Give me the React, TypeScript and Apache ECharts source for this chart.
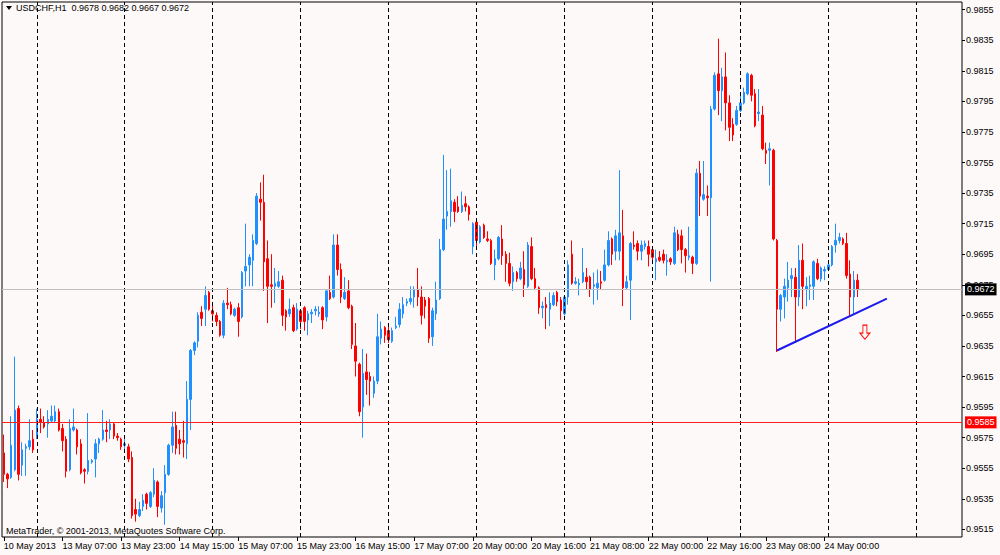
import React, { useEffect, useRef } from "react";
import * as echarts from "echarts";

const SLOTS = 262;
const LABEL_STEP = 16;
const tickLabels = [
  "10 May 2013", "13 May 07:00", "13 May 23:00", "14 May 15:00", "15 May 07:00",
  "15 May 23:00", "16 May 15:00", "17 May 07:00", "20 May 00:00", "20 May 16:00",
  "21 May 08:00", "22 May 00:00", "22 May 16:00", "23 May 08:00", "24 May 00:00",
];
const daySeparators = [9, 33, 57, 81, 105, 129, 153, 177, 201, 225, 249];
const priceTicks = [
  0.9515, 0.9535, 0.9555, 0.9575, 0.9595, 0.9615, 0.9635, 0.9655, 0.9675,
  0.9695, 0.9715, 0.9735, 0.9755, 0.9775, 0.9795, 0.9815, 0.9835, 0.9855,
];

const open = [
  0.9565, 0.9551, 0.9549, 0.9554, 0.9594, 0.9557, 0.9568, 0.9569, 0.9574, 0.9575,
  0.9587, 0.9585, 0.9584, 0.9586, 0.9586, 0.9592, 0.9581, 0.9574, 0.9554, 0.9580,
  0.9580, 0.9571, 0.9554, 0.9553, 0.9559, 0.9561, 0.9571, 0.9574, 0.9580, 0.9580,
  0.9584, 0.9576, 0.9574, 0.9570, 0.9569, 0.9562, 0.9528, 0.9524, 0.9530, 0.9538,
  0.9530, 0.9538, 0.9546, 0.9529, 0.9539, 0.9551, 0.9570, 0.9583, 0.9574, 0.9573,
  0.9571, 0.9600, 0.9632, 0.9638, 0.9657, 0.9659, 0.9670, 0.9658, 0.9655, 0.9651,
  0.9642, 0.9663, 0.9662, 0.9655, 0.9660, 0.9654, 0.9684, 0.9688, 0.9691, 0.9702,
  0.9731, 0.9729, 0.9692, 0.9675, 0.9674, 0.9674, 0.9678, 0.9658, 0.9656, 0.9660,
  0.9646, 0.9658, 0.9660, 0.9652, 0.9656, 0.9658, 0.9656, 0.9660, 0.9654, 0.9670,
  0.9667, 0.9701, 0.9685, 0.9666, 0.9671, 0.9661, 0.9635, 0.9623, 0.9595, 0.9618,
  0.9615, 0.9604, 0.9612, 0.9640, 0.9647, 0.9645, 0.9638, 0.9647, 0.9649, 0.9656,
  0.9663, 0.9664, 0.9667, 0.9672, 0.9667, 0.9665, 0.9666, 0.9641, 0.9656, 0.9666,
  0.9698, 0.9720, 0.9723, 0.9729, 0.9726, 0.9723, 0.9728, 0.9726, 0.9700, 0.9716,
  0.9703, 0.9714, 0.9705, 0.9704, 0.9688, 0.9692, 0.9705, 0.9695, 0.9689, 0.9677,
  0.9683, 0.9679, 0.9685, 0.9674, 0.9700, 0.9679, 0.9673, 0.9660, 0.9662, 0.9659,
  0.9662, 0.9670, 0.9665, 0.9656, 0.9667, 0.9695, 0.9676, 0.9675, 0.9677, 0.9680,
  0.9680, 0.9674, 0.9673, 0.9677, 0.9678, 0.9688, 0.9705, 0.9697, 0.9697, 0.9707,
  0.9673, 0.9678, 0.9701, 0.9702, 0.9697, 0.9700, 0.9700, 0.9698, 0.9690, 0.9693,
  0.9695, 0.9690, 0.9692, 0.9689, 0.9708, 0.9707, 0.9698, 0.9693, 0.9693, 0.9689,
  0.9748, 0.9731, 0.9733, 0.9732, 0.9790, 0.9813, 0.9802, 0.9811, 0.9794, 0.9780,
  0.9780, 0.9789, 0.9794, 0.9800, 0.9812, 0.9800, 0.9787, 0.9786, 0.9763, 0.9763,
  0.9763, 0.9704, 0.9659, 0.9667, 0.9673, 0.9679, 0.9680, 0.9667, 0.9691, 0.9672,
  0.9674, 0.9674, 0.9689, 0.9679, 0.9684, 0.9685, 0.9688, 0.9701, 0.9704, 0.9705,
  0.9702, 0.9682, 0.9667, 0.9678,
];
const high = [
  0.9577, 0.9552, 0.9589, 0.9628, 0.9596, 0.9572, 0.9571, 0.9587, 0.9580, 0.9594,
  0.9594, 0.9589, 0.9593, 0.9596, 0.9596, 0.9594, 0.9584, 0.9576, 0.9587, 0.9594,
  0.9581, 0.9574, 0.9555, 0.9591, 0.9561, 0.9574, 0.9575, 0.9593, 0.9586, 0.9587,
  0.9585, 0.9578, 0.9575, 0.9574, 0.9571, 0.9566, 0.9535, 0.9533, 0.9538, 0.9539,
  0.9540, 0.9555, 0.9547, 0.9540, 0.9557, 0.9571, 0.9592, 0.9592, 0.9580, 0.9586,
  0.9612, 0.9633, 0.9638, 0.9657, 0.9661, 0.9674, 0.9671, 0.9663, 0.9657, 0.9652,
  0.9665, 0.9673, 0.9664, 0.9660, 0.9663, 0.9684, 0.9715, 0.9695, 0.9708, 0.9735,
  0.9742, 0.9747, 0.9704, 0.9695, 0.9686, 0.9684, 0.9681, 0.9659, 0.9666, 0.9662,
  0.9663, 0.9659, 0.9661, 0.9658, 0.9659, 0.9661, 0.9661, 0.9661, 0.9672, 0.9681,
  0.9708, 0.9708, 0.9689, 0.9680, 0.9678, 0.9662, 0.9650, 0.9624, 0.9633, 0.9630,
  0.9618, 0.9615, 0.9656, 0.9651, 0.9648, 0.9648, 0.9647, 0.9654, 0.9663, 0.9667,
  0.9666, 0.9674, 0.9674, 0.9686, 0.9674, 0.9667, 0.9667, 0.9660, 0.9677, 0.9705,
  0.9760, 0.9750, 0.9751, 0.9731, 0.9733, 0.9736, 0.9733, 0.9727, 0.9716, 0.9717,
  0.9714, 0.9715, 0.9710, 0.9705, 0.9698, 0.9707, 0.9714, 0.9697, 0.9696, 0.9687,
  0.9684, 0.9690, 0.9697, 0.9703, 0.9706, 0.9686, 0.9674, 0.9664, 0.9667, 0.9670,
  0.9670, 0.9671, 0.9667, 0.9668, 0.9691, 0.9704, 0.9680, 0.9679, 0.9699, 0.9686,
  0.9681, 0.9683, 0.9685, 0.9684, 0.9698, 0.9710, 0.9706, 0.9711, 0.9750, 0.9724,
  0.9681, 0.9703, 0.9710, 0.9704, 0.9704, 0.9704, 0.9704, 0.9699, 0.9698, 0.9697,
  0.9698, 0.9695, 0.9693, 0.9713, 0.9711, 0.9711, 0.9699, 0.9713, 0.9694, 0.9751,
  0.9756, 0.9756, 0.9740, 0.9792, 0.9814, 0.9836, 0.9817, 0.9827, 0.9799, 0.9784,
  0.9792, 0.9801, 0.9804, 0.9814, 0.9813, 0.9803, 0.9803, 0.9792, 0.9768, 0.9768,
  0.9764, 0.9705, 0.9669, 0.9679, 0.9690, 0.9686, 0.9686, 0.9701, 0.9702, 0.9680,
  0.9681, 0.9691, 0.9692, 0.9687, 0.9687, 0.9691, 0.9701, 0.9715, 0.9709, 0.9706,
  0.9709, 0.9691, 0.9684, 0.9682,
];
const low = [
  0.9546, 0.9542, 0.9548, 0.9553, 0.9547, 0.9550, 0.9550, 0.9567, 0.9565, 0.9574,
  0.9578, 0.9581, 0.9575, 0.9585, 0.9585, 0.9579, 0.9566, 0.9549, 0.9553, 0.9579,
  0.9564, 0.9551, 0.9545, 0.9551, 0.9558, 0.9549, 0.9565, 0.9573, 0.9572, 0.9574,
  0.9574, 0.9573, 0.9567, 0.9567, 0.9559, 0.9522, 0.9520, 0.9523, 0.9527, 0.9528,
  0.9529, 0.9536, 0.9523, 0.9526, 0.9518, 0.9550, 0.9565, 0.9564, 0.9564, 0.9562,
  0.9561, 0.9580, 0.9629, 0.9634, 0.9648, 0.9648, 0.9658, 0.9651, 0.9648, 0.9641,
  0.9640, 0.9659, 0.9655, 0.9654, 0.9641, 0.9653, 0.9674, 0.9674, 0.9674, 0.9701,
  0.9717, 0.9671, 0.9650, 0.9660, 0.9663, 0.9673, 0.9648, 0.9645, 0.9654, 0.9644,
  0.9645, 0.9646, 0.9645, 0.9642, 0.9650, 0.9655, 0.9654, 0.9646, 0.9651, 0.9665,
  0.9666, 0.9681, 0.9663, 0.9665, 0.9659, 0.9633, 0.9615, 0.9589, 0.9575, 0.9603,
  0.9596, 0.9601, 0.9610, 0.9636, 0.9637, 0.9637, 0.9637, 0.9646, 0.9647, 0.9653,
  0.9661, 0.9662, 0.9660, 0.9661, 0.9649, 0.9653, 0.9637, 0.9635, 0.9652, 0.9665,
  0.9697, 0.9711, 0.9713, 0.9716, 0.9722, 0.9722, 0.9723, 0.9717, 0.9695, 0.9698,
  0.9702, 0.9705, 0.9703, 0.9688, 0.9678, 0.9691, 0.9688, 0.9677, 0.9674, 0.9671,
  0.9677, 0.9678, 0.9667, 0.9673, 0.9678, 0.9672, 0.9656, 0.9653, 0.9646, 0.9648,
  0.9661, 0.9661, 0.9652, 0.9655, 0.9662, 0.9675, 0.9675, 0.9668, 0.9676, 0.9672,
  0.9667, 0.9662, 0.9665, 0.9672, 0.9677, 0.9687, 0.9688, 0.9691, 0.9691, 0.9661,
  0.9672, 0.9652, 0.9698, 0.9691, 0.9691, 0.9698, 0.9687, 0.9690, 0.9678, 0.9690,
  0.9689, 0.9681, 0.9688, 0.9688, 0.9697, 0.9689, 0.9683, 0.9691, 0.9682, 0.9688,
  0.9720, 0.9730, 0.9720, 0.9677, 0.9789, 0.9786, 0.9782, 0.9776, 0.9769, 0.9769,
  0.9779, 0.9788, 0.9793, 0.9799, 0.9795, 0.9778, 0.9782, 0.9763, 0.9754, 0.9740,
  0.9704, 0.9631, 0.9651, 0.9653, 0.9664, 0.9667, 0.9637, 0.9661, 0.9659, 0.9661,
  0.9665, 0.9665, 0.9678, 0.9677, 0.9678, 0.9684, 0.9687, 0.9696, 0.9702, 0.9701,
  0.9679, 0.9654, 0.9656, 0.9667,
];
const close = [
  0.9551, 0.9548, 0.9570, 0.9593, 0.9551, 0.9567, 0.9569, 0.9573, 0.9567, 0.9587,
  0.9585, 0.9582, 0.9587, 0.9589, 0.9592, 0.9580, 0.9573, 0.9553, 0.9581, 0.9582,
  0.9569, 0.9552, 0.9553, 0.9560, 0.9560, 0.9571, 0.9574, 0.9580, 0.9579, 0.9584,
  0.9576, 0.9575, 0.9569, 0.9571, 0.9561, 0.9524, 0.9525, 0.9528, 0.9534, 0.9532,
  0.9539, 0.9547, 0.9530, 0.9537, 0.9551, 0.9570, 0.9582, 0.9568, 0.9571, 0.9572,
  0.9600, 0.9632, 0.9637, 0.9655, 0.9653, 0.9668, 0.9659, 0.9656, 0.9651, 0.9642,
  0.9663, 0.9662, 0.9656, 0.9659, 0.9651, 0.9683, 0.9687, 0.9693, 0.9704, 0.9733,
  0.9729, 0.9690, 0.9674, 0.9674, 0.9676, 0.9677, 0.9655, 0.9654, 0.9659, 0.9645,
  0.9659, 0.9651, 0.9651, 0.9656, 0.9657, 0.9659, 0.9657, 0.9652, 0.9671, 0.9666,
  0.9701, 0.9685, 0.9667, 0.9670, 0.9660, 0.9636, 0.9625, 0.9592, 0.9617, 0.9613,
  0.9612, 0.9612, 0.9641, 0.9646, 0.9642, 0.9639, 0.9645, 0.9648, 0.9659, 0.9662,
  0.9664, 0.9666, 0.9672, 0.9667, 0.9655, 0.9661, 0.9640, 0.9658, 0.9665, 0.9698,
  0.9718, 0.9723, 0.9730, 0.9723, 0.9723, 0.9727, 0.9726, 0.9721, 0.9715, 0.9704,
  0.9713, 0.9706, 0.9704, 0.9689, 0.9692, 0.9706, 0.9694, 0.9689, 0.9676, 0.9683,
  0.9679, 0.9686, 0.9675, 0.9701, 0.9679, 0.9673, 0.9660, 0.9661, 0.9660, 0.9663,
  0.9668, 0.9664, 0.9658, 0.9667, 0.9688, 0.9676, 0.9677, 0.9676, 0.9683, 0.9677,
  0.9672, 0.9675, 0.9676, 0.9676, 0.9688, 0.9704, 0.9695, 0.9707, 0.9709, 0.9673,
  0.9677, 0.9702, 0.9700, 0.9697, 0.9701, 0.9702, 0.9695, 0.9693, 0.9692, 0.9691,
  0.9691, 0.9691, 0.9690, 0.9709, 0.9698, 0.9698, 0.9694, 0.9694, 0.9689, 0.9748,
  0.9733, 0.9734, 0.9732, 0.9790, 0.9812, 0.9802, 0.9811, 0.9794, 0.9778, 0.9773,
  0.9789, 0.9794, 0.9801, 0.9813, 0.9799, 0.9779, 0.9788, 0.9764, 0.9761, 0.9764,
  0.9705, 0.9659, 0.9668, 0.9674, 0.9678, 0.9681, 0.9667, 0.9691, 0.9674, 0.9674,
  0.9675, 0.9690, 0.9679, 0.9686, 0.9685, 0.9688, 0.9700, 0.9704, 0.9706, 0.9702,
  0.9681, 0.9667, 0.9678, 0.9672,
];

const bidPrice = 0.9672;
const horizontalLevel = 0.9585;
const trendLine = [
  [211, 0.9632],
  [241, 0.9666],
];
const sellArrow = [[235, 0.9644]];

const titleText = "USDCHF,H1  0.9678 0.9682 0.9667 0.9672";
const copyrightText = "MetaTrader, \u00a9 2001-2013, MetaQuotes Software Corp.";

const FONT = "'Liberation Sans', Arial, sans-serif";
const BG = "#fdf9f8";

const categories = Array.from({ length: SLOTS }, (_, i) => String(i));
const isLabelIdx = (i: number) => i % LABEL_STEP === 0 && i / LABEL_STEP < tickLabels.length;

const priceBox = (bg: string, value: number) => ({
  show: true,
  position: "end",
  distance: 3,
  formatter: value.toFixed(4),
  backgroundColor: bg,
  color: "#fff",
  padding: [2, 2, 1, 2],
  fontSize: 9,
  fontFamily: FONT,
});

export default function App() {
  const ref = useRef<HTMLDivElement>(null);
  useEffect(() => {
    if (!ref.current) return;
    const chart = echarts.init(ref.current, undefined, { renderer: "svg" });
    const candles = open.map((o, i) => [o, close[i], low[i], high[i]]);
    chart.setOption({
      animation: false,
      backgroundColor: BG,
      grid: {
        left: 2,
        right: 38,
        top: 2,
        bottom: 18,
        show: true,
        borderColor: "#000",
        borderWidth: 1,
        backgroundColor: "transparent",
      },
      xAxis: {
        type: "category",
        data: categories,
        boundaryGap: true,
        axisLine: { show: false },
        axisTick: {
          show: true,
          alignWithLabel: true,
          interval: (i: number) => isLabelIdx(i),
          length: 4,
          lineStyle: { color: "#000" },
        },
        axisLabel: {
          interval: (i: number) => isLabelIdx(i),
          formatter: (v: string) => tickLabels[Number(v) / LABEL_STEP] ?? "",
          align: "left",
          margin: 4,
          fontSize: 9,
          fontFamily: FONT,
          color: "#000",
        },
        splitLine: { show: false },
      },
      yAxis: {
        type: "value",
        position: "right",
        min: 0.951,
        max: 0.986,
        axisLine: { show: false },
        axisTick: {
          show: true,
          length: 3,
          customValues: priceTicks,
          lineStyle: { color: "#000" },
        },
        axisLabel: {
          customValues: priceTicks,
          formatter: (v: number) => v.toFixed(4),
          margin: 4,
          fontSize: 9,
          fontFamily: FONT,
          color: "#000",
        },
        splitLine: { show: false },
      },
      graphic: [
        {
          type: "polygon",
          shape: { points: [[6, 6], [12, 6], [9, 10]] },
          style: { fill: "#000" },
        },
        {
          type: "text",
          left: 16,
          top: 3,
          style: { text: titleText, fontSize: 9, fontFamily: FONT, fill: "#000" },
        },
        {
          type: "text",
          left: 6,
          top: 526,
          style: { text: copyrightText, fontSize: 9, fontFamily: FONT, fill: "#000" },
        },
      ],
      series: [
        {
          type: "candlestick",
          data: candles,
          barWidth: 2,
          itemStyle: {
            color: "#1e90ff",
            color0: "#ff0000",
            borderColor: "#1e90ff",
            borderColor0: "#ff0000",
            borderWidth: 1,
          },
          markLine: {
            silent: true,
            symbol: ["none", "none"],
            animation: false,
            data: daySeparators.map((i) => ({
              xAxis: i,
              lineStyle: { color: "#000", type: [4, 3], width: 1 },
              label: { show: false },
            })),
          },
        },
        {
          type: "line",
          data: trendLine,
          symbol: "none",
          lineStyle: { color: "#1a1aee", width: 2 },
          z: 5,
          markLine: {
            silent: true,
            precision: 4,
            symbol: ["none", "none"],
            animation: false,
            data: [
              {
                yAxis: bidPrice,
                lineStyle: { color: "#c0c0c0", type: "solid", width: 1 },
                label: priceBox("#000", bidPrice),
              },
              {
                yAxis: horizontalLevel,
                lineStyle: { color: "#ff2020", type: "solid", width: 1 },
                label: priceBox("#ff0000", horizontalLevel),
              },
            ],
          },
        },
        {
          type: "scatter",
          data: sellArrow,
          symbol: "path://M3,0L7,0L7,8L10,8L5,14L0,8L3,8Z",
          symbolSize: [10, 14],
          itemStyle: { color: BG, borderColor: "#ff0000", borderWidth: 1, opacity: 1 },
          z: 5,
        },
      ],
    });
    return () => chart.dispose();
  }, []);
  return (
    <div
      ref={ref}
      style={{ position: "fixed", left: 0, top: 0, width: 1000, height: 555, background: BG }}
    />
  );
}
